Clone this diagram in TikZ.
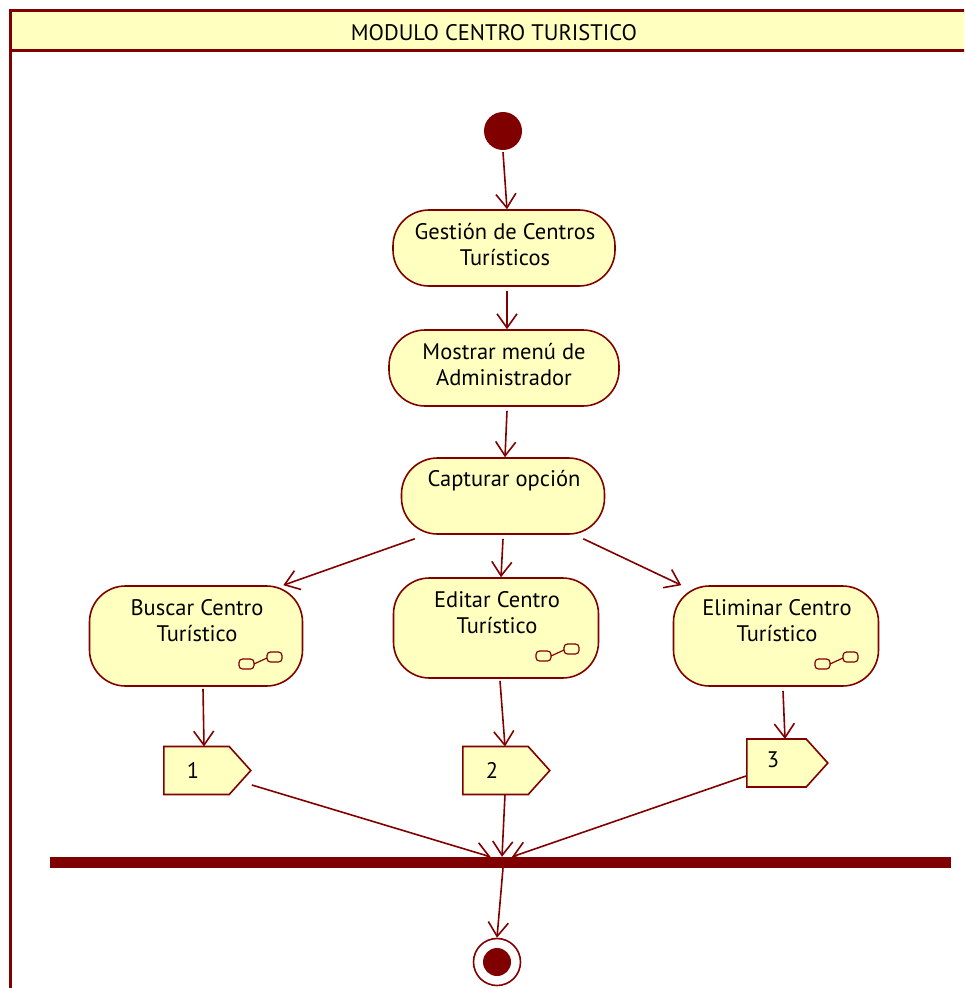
\documentclass[tikz,border=0pt]{standalone}
\usepackage{fontspec}
\setmainfont{PT Sans}
\usetikzlibrary{arrows.meta,shapes.symbols,calc}
\definecolor{umlred}{HTML}{800000}
\definecolor{umlfill}{HTML}{FFFFC0}
\tikzset{
  act/.style={draw=umlred, fill=umlfill, line width=1.6pt, rounded corners=36pt, inner sep=0pt},
  lbl/.style={font=\fontsize{22.5}{26}\selectfont, align=center, inner sep=0pt},
  flow/.style={draw=umlred, line width=1.6pt, -{Straight Barb[length=14pt,width=20pt,line width=1.6pt]}},
  sig/.style={signal, signal to=east, signal pointer angle=96, draw=umlred, fill=umlfill,
    line width=1.6pt, minimum width=87pt, minimum height=48pt, inner sep=0pt, anchor=west},
  rakebox/.style={draw=umlred, line width=1.2pt, rounded corners=3.5pt}
}
% call-behaviour (rake) mark, drawn around a given point
\newcommand{\rakeicon}[1]{%
  \draw[rakebox] ($(#1)+(-21,-1)$) rectangle ($(#1)+(-6,9)$);
  \draw[rakebox] ($(#1)+(7,-8)$) rectangle ($(#1)+(22,2)$);
  \draw[umlred, line width=1.2pt] ($(#1)+(-6,4)$) -- ($(#1)+(7,-2)$);
}
\begin{document}
\begin{tikzpicture}[x=1pt,y=-1pt]
\useasboundingbox (0,0) rectangle (964,988);
\begin{scope}
\clip (0,0) rectangle (964,988);
% frame with header band
\fill[umlfill] (10,10) rectangle (980,50);
\draw[umlred, line width=3pt] (10,1010) -- (10,10) -- (980,10);
\draw[umlred, line width=3pt] (10,50) -- (980,50);
\end{scope}
\node[lbl] (title) at (494,33) {MODULO CENTRO TURISTICO};

% start node
\node[circle, fill=umlred, minimum size=38pt, inner sep=0pt] (start) at (503,131) {};

% actions
\node[act, minimum width=222pt, minimum height=76pt] (gest) at (504,248) {};
\node[lbl] (gestt) at (505,245) {Gestión de Centros\\Turísticos};
\node[act, minimum width=230pt, minimum height=76pt] (menu) at (504,368) {};
\node[lbl] (menut) at (504,365) {Mostrar menú de\\Administrador};
\node[act, minimum width=203pt, minimum height=76pt] (cap) at (503,496) {};
\node[lbl] (capt) at (504,481) {Capturar opción};

\node[act, minimum width=213pt, minimum height=100pt] (busc) at (196,636) {};
\node[lbl] (busct) at (197,621) {Buscar Centro\\Turístico};
\node[act, minimum width=205pt, minimum height=100pt] (edit) at (496,628) {};
\node[lbl] (editt) at (497,613) {Editar Centro\\Turístico};
\node[act, minimum width=205pt, minimum height=100pt] (elim) at (776,636) {};
\node[lbl] (elimt) at (777,621) {Eliminar Centro\\Turístico};

\coordinate (r1) at (260,660);
\coordinate (r2) at (557,652);
\coordinate (r3) at (836,660);
\rakeicon{r1}
\rakeicon{r2}
\rakeicon{r3}

% send-signal actions
\node[sig] (s1) at (163,770.5) {};
\node[lbl] (s1t) at (193,770) {1};
\node[sig] (s2) at (462,770.5) {};
\node[lbl] (s2t) at (492,770) {2};
\node[sig, minimum width=81pt] (s3) at (746,763) {};
\node[lbl] (s3t) at (773,760) {3};

% join bar
\node[fill=umlred, minimum width=901pt, minimum height=11pt, inner sep=0pt] (bar) at (500.5,862.5) {};

% final node
\node[circle, draw=umlred, line width=1.6pt, fill=white, minimum size=47pt, inner sep=0pt] (final) at (497,962) {};
\node[circle, fill=umlred, minimum size=28pt, inner sep=0pt] (finalin) at (final.center) {};

% flows
\draw[flow] ([yshift=-2pt]start.south) -- ([xshift=3pt]gest.north);
\draw[flow] ([xshift=3pt,yshift=-4pt]gest.south) -- ([xshift=3pt]menu.north);
\draw[flow] ([xshift=3pt,yshift=-4pt]menu.south) -- ([xshift=2pt]cap.north);
\draw[flow] ([xshift=14pt,yshift=-4pt]cap.south west) -- ([xshift=-20pt]busc.north east);
\draw[flow] ([yshift=-4pt]cap.south) -- ([xshift=5pt]edit.north);
\draw[flow] ([xshift=-22pt,yshift=-4pt]cap.south east) -- ([xshift=-198pt]elim.north east);
\draw[flow] ([xshift=7pt,yshift=-2pt]busc.south) -- ([xshift=41pt,yshift=24pt]s1.west);
\draw[flow] ([xshift=4pt,yshift=-2pt]edit.south) -- ([xshift=43pt,yshift=24pt]s2.west);
\draw[flow] ([xshift=7pt,yshift=-4pt]elim.south) -- ([xshift=39pt,yshift=24pt]s3.west);
\draw[flow] ([yshift=-14.5pt]s1.east) -- ([xshift=-10pt]bar.north);
\draw[flow] ([xshift=43pt,yshift=-24pt]s2.west) -- ([xshift=1.5pt]bar.north);
\draw[flow] ([yshift=-13pt]s3.west) -- ([xshift=11.5pt]bar.north);
\draw[flow] ([xshift=2.5pt]bar.south) -- (final.north);
\end{tikzpicture}
\end{document}
